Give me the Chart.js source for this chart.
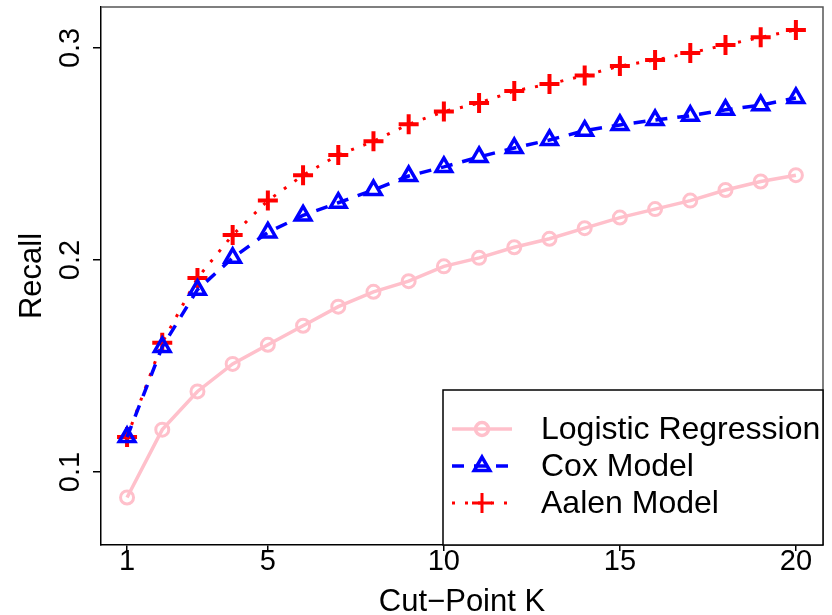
<!DOCTYPE html>
<html>
<head>
<meta charset="utf-8">
<script src="https://cdn.jsdelivr.net/npm/chart.js@4"></script>
<style>
  body { margin: 0; background: #fff; }
  #wrap { width: 832px; height: 615px; }
</style>
</head>
<body>
<div id="wrap"><canvas id="graph"></canvas></div>
<script>
// values
var kValues = [1,2,3,4,5,6,7,8,9,10,11,12,13,14,15,16,17,18,19,20];
var logistic = [0.088,0.120,0.138,0.151,0.160,0.169,0.178,0.185,0.190,0.197,0.201,0.206,0.210,0.215,0.220,0.224,0.228,0.233,0.237,0.240];
var cox = [0.1165,0.159,0.186,0.201,0.213,0.221,0.227,0.233,0.2396,0.2439,0.2486,0.2528,0.2566,0.261,0.2637,0.266,0.268,0.2708,0.273,0.2764];
var aalen = [0.1165,0.161,0.1915,0.2118,0.228,0.240,0.2495,0.256,0.264,0.270,0.274,0.2797,0.283,0.287,0.2915,0.2943,0.2976,0.3014,0.305,0.3085];
var xTicks = [1,5,10,15,20];
var yTicks = [0.1,0.2,0.3];
var seriesNames = ["Logistic Regression","Cox Model","Aalen Model"];

var FONT = "'Liberation Sans', Arial, sans-serif";

function pts(vals){
  var out = [];
  for(let i=0;i<kValues.length;i++){
    out.push({x:kValues[i], y:vals[i]})
  }
  return out;
}

// box, y tick labels and legend
var extras = {
  id: "extras",
  beforeDatasetsDraw(chart){
    var ctx = chart.ctx, a = chart.chartArea;
    ctx.save();
    ctx.strokeStyle = "#555";
    ctx.lineWidth = 1.5;
    ctx.beginPath();
    ctx.moveTo(a.left, a.top);
    ctx.lineTo(a.right, a.top);
    ctx.lineTo(a.right, a.bottom);
    ctx.stroke();
    ctx.restore();
  },
  afterDraw(chart){
    var ctx = chart.ctx, a = chart.chartArea;
    var ys = chart.scales.y;
    ctx.save();
    ctx.fillStyle = "#000";
    ctx.font = "29px " + FONT;
    ctx.textAlign = "center";
    ctx.textBaseline = "middle";
    yTicks.forEach(function(v){
      var py = ys.getPixelForValue(v);
      ctx.save();
      ctx.translate(71, py);
      ctx.rotate(-Math.PI/2);
      ctx.fillText(String(v), 0, 0);
      ctx.restore();
    });

    // legend
    var bx = a.right - 380, by = a.bottom - 155;
    ctx.fillStyle = "#fff";
    ctx.fillRect(bx, by, 380, 155);
    ctx.strokeStyle = "#000";
    ctx.lineWidth = 1.5;
    ctx.strokeRect(bx, by, 380, 155);
    chart.data.datasets.forEach(function(ds, i){
      var ry = by + 39 + i*37;
      ctx.save();
      ctx.strokeStyle = ds.borderColor;
      ctx.lineWidth = ds.borderWidth;
      ctx.setLineDash(ds.borderDash || []);
      ctx.beginPath();
      ctx.moveTo(bx + 9, ry);
      ctx.lineTo(bx + 69, ry);
      ctx.stroke();
      ctx.setLineDash([]);
      ctx.strokeStyle = ds.pointBorderColor;
      ctx.fillStyle = "rgba(0,0,0,0)";
      Chart.helpers.drawPoint(ctx, {
        pointStyle: ds.pointStyle,
        radius: ds.pointRadius,
        borderWidth: ds.pointBorderWidth,
        rotation: 0
      }, bx + 39, ry);
      ctx.restore();
      ctx.fillStyle = "#000";
      ctx.font = "32px " + FONT;
      ctx.textAlign = "left";
      ctx.textBaseline = "middle";
      ctx.fillText(ds.label, bx + 98, ry + 1);
    });
    ctx.restore();
  }
};

new Chart(document.getElementById("graph"), {
  type: "line",
  data: {
    datasets: [{
      label: seriesNames[0],
      data: pts(logistic),
      borderColor: "#FFC0CB",
      borderWidth: 3.5,
      pointStyle: "circle",
      pointRadius: 6.5,
      pointBorderWidth: 3,
      pointBorderColor: "#FFC0CB",
      pointBackgroundColor: "rgba(0,0,0,0)",
      lineTension: 0
    },{
      label: seriesNames[1],
      data: pts(cox),
      borderColor: "#0000FF",
      borderWidth: 3.5,
      borderDash: [12,10],
      pointStyle: "triangle",
      pointRadius: 9,
      pointBorderWidth: 3.5,
      pointBorderColor: "#0000FF",
      pointBackgroundColor: "rgba(0,0,0,0)",
      lineTension: 0
    },{
      label: seriesNames[2],
      data: pts(aalen),
      borderColor: "#FF0000",
      borderWidth: 3,
      borderDash: [3,10],
      pointStyle: "cross",
      pointRadius: 10,
      pointBorderWidth: 4,
      pointBorderColor: "#FF0000",
      pointBackgroundColor: "rgba(0,0,0,0)",
      lineTension: 0
    }]
  },
  options: {
    responsive: true,
    maintainAspectRatio: false,
    animation: false,
    layout: { autoPadding: false, padding: { left: 0, top: 7, right: 9, bottom: 0 } },
    plugins: { legend: { display: false }, tooltip: { enabled: false } },
    scales: {
      x: {
        type: "linear",
        min: 0.26,
        max: 20.77,
        afterBuildTicks: function(s){ s.ticks = xTicks.map(function(v){ return {value:v}; }); },
        afterFit: function(s){ s.height = 70; s.paddingLeft = 0; s.paddingRight = 0; },
        grid: { drawOnChartArea: false, drawTicks: true, tickLength: 6, color: "#000", lineWidth: 1.5 },
        border: { color: "#000", width: 1.5 },
        ticks: { color: "#000", padding: -1, maxRotation: 0, font: { family: FONT, size: 29, lineHeight: 0.8 } },
        title: { display: true, text: "Cut\u2212Point K", color: "#000", padding: { top: 0, bottom: -3 }, font: { family: FONT, size: 31, lineHeight: 1 } }
      },
      y: {
        type: "linear",
        min: 0.0656,
        max: 0.3193,
        afterBuildTicks: function(s){ s.ticks = yTicks.map(function(v){ return {value:v}; }); },
        afterFit: function(s){ s.width = 101; s.paddingTop = 0; s.paddingBottom = 0; },
        grid: { drawOnChartArea: false, drawTicks: true, tickLength: 8, color: "#000", lineWidth: 1.5 },
        border: { color: "#000", width: 1.5 },
        ticks: { color: "rgba(0,0,0,0)", font: { family: FONT, size: 1, lineHeight: 1 } },
        title: { display: true, text: "Recall", color: "#000", padding: { top: 17, bottom: 0 }, font: { family: FONT, size: 31, lineHeight: 1 } }
      }
    }
  },
  plugins: [extras]
});
</script>
</body>
</html>
